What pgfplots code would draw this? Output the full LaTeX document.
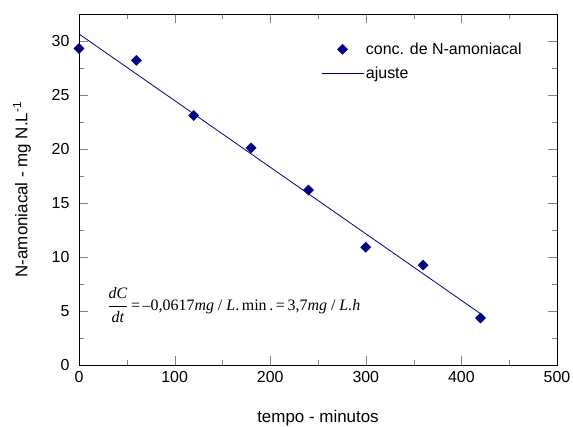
\documentclass[border=0pt]{standalone}
\usepackage{amsmath}
\usepackage{fontspec}
\setmainfont{Liberation Sans}
\newfontfamily\timesf{Liberation Serif}
\usepackage{pgfplots}
\pgfplotsset{compat=1.18}
\definecolor{navy}{RGB}{0,0,128}

% wider legend images, like the original
\pgfplotsset{
    marklegend/.style={legend image code/.code={\draw[##1] plot coordinates {(21bp,0bp)};}},
    linelegend/.style={legend image code/.code={\draw[##1] (0bp,0bp) -- (42bp,0bp);}},
}

\begin{document}
\begin{tikzpicture}
\useasboundingbox (-79bp,-62bp) rectangle (494bp,365bp);
\begin{axis}[
    scale only axis,
    width=478bp, height=351bp,
    xmin=0, xmax=500, ymin=0, ymax=32.5,
    xtick distance=100, ytick distance=5,
    minor x tick num=1, minor y tick num=1,
    tick align=inside,
    major tick length=9bp, minor tick length=5bp,
    /pgf/number format/assume math mode=true,
    tick label style={font=\fontsize{16}{19}\selectfont},
    label style={font=\fontsize{17}{20}\selectfont},
    xlabel={tempo - minutos},
    ylabel={N-amoniacal - mg N.L\textsuperscript{-1}},
    xlabel style={yshift=-21bp},
    ylabel style={yshift=14bp},
    yticklabel style={xshift=-6bp},
    xticklabel style={yshift=-3bp},
    legend style={at={(0.5,0.93)}, anchor=north west, draw=none, fill=none,
        font=\fontsize{16}{19}\selectfont, row sep=7bp,
        nodes={inner xsep=2bp}},
    legend cell align=left,
]
\addplot[only marks, mark=square*, mark size=3.6bp, navy,
    mark options={rotate=45}, marklegend]
    table {
    x   y
    0   29.3
    60  28.2
    120 23.1
    180 20.1
    240 16.2
    300 10.9
    360 9.25
    420 4.35
    };
\addlegendentry{conc. de N-amoniacal}
\addplot[navy, line width=0.8bp, linelegend]
    table {
    x   y
    0   30.65
    420 4.75
    };
\addlegendentry{ajuste}
\node[anchor=west, font=\timesf\fontsize{16}{19}\selectfont, inner sep=0pt]
    at (rel axis cs:0.059,0.171)
    {$\dfrac{\textit{dC}}{\textit{dt}}$\,=\,–0,0617\textit{mg} / \textit{L}.\,min\,.\,=\,3,7\textit{mg} / \textit{L.h}};
\end{axis}
\end{tikzpicture}
\end{document}
